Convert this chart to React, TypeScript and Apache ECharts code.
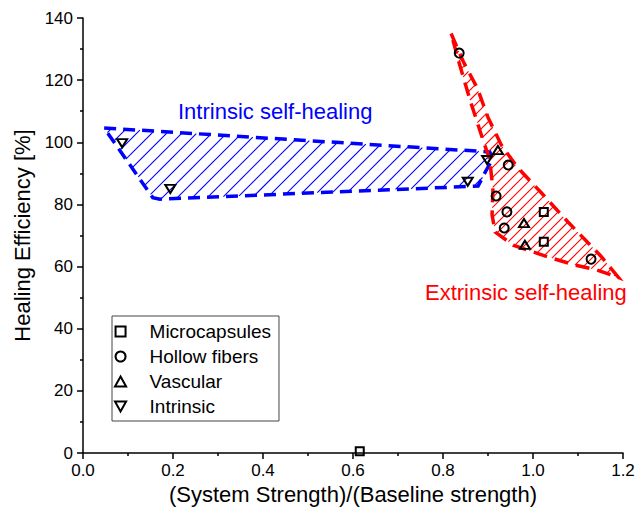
import React, { useEffect, useRef } from 'react';
import * as echarts from 'echarts';

const FONT = '"Liberation Sans", Arial, Helvetica, sans-serif';

// x: (System Strength)/(Baseline strength), y: Healing Efficiency [%]
const microcapsules: number[][] = [[1.024, 77.6], [1.024, 68], [0.615, 0.6]];
const hollowFibers: number[][] = [
  [0.836, 128.7], [0.945, 92.7], [0.918, 82.7], [0.942, 77.6], [0.936, 72.4], [1.129, 62.4],
];
const vascular: number[][] = [[0.922, 97.5], [0.98, 74], [0.982, 67]];
const intrinsic: number[][] = [[0.087, 99.7], [0.194, 85], [0.855, 87.3], [0.898, 94.3]];

const intrinsicRegion: number[][] = [
  [0.047, 104.6], [0.904, 96.9], [0.91, 94.5], [0.896, 91], [0.878, 85.9], [0.171, 81.7], [0.155, 82.2],
];
const extrinsicRegion: number[][] = [
  [0.818, 135], [0.845, 126], [0.876, 117.5], [0.9, 108], [0.93, 99], [0.965, 92], [1.02, 83.5],
  [1.08, 74], [1.15, 63.5], [1.19, 56.5], [1.142, 58.9], [1.093, 60.5], [1.033, 63.1], [0.956, 66.9],
  [0.916, 71.1], [0.909, 76.6], [0.911, 84.6], [0.904, 94.3], [0.889, 100.7], [0.86, 113.6], [0.835, 126],
];

const legendNames = ['Microcapsules', 'Hollow fibers', 'Vascular', 'Intrinsic'];

function hatchLines(pts: number[][], step: number) {
  const sums = pts.map((p) => p[0] + p[1]);
  const lo = Math.min(...sums);
  const hi = Math.max(...sums);
  const out: number[][] = [];
  for (let c = Math.ceil(lo / step) * step; c <= hi; c += step) {
    const hits: number[][] = [];
    for (let i = 0; i < pts.length; i++) {
      const a = pts[i];
      const b = pts[(i + 1) % pts.length];
      const fa = a[0] + a[1] - c;
      const fb = b[0] + b[1] - c;
      if ((fa < 0 && fb >= 0) || (fa >= 0 && fb < 0)) {
        const t = fa / (fa - fb);
        hits.push([a[0] + t * (b[0] - a[0]), a[1] + t * (b[1] - a[1])]);
      }
    }
    hits.sort((p, q) => p[0] - q[0]);
    for (let k = 0; k + 1 < hits.length; k += 2) {
      out.push([hits[k][0], hits[k][1], hits[k + 1][0], hits[k + 1][1]]);
    }
  }
  return out;
}

function regionSeries(region: number[][], color: string, hatchColor: string, step: number, dash: number[]) {
  return {
    type: 'custom',
    silent: true,
    z: 1,
    data: region,
    itemStyle: { color: hatchColor },
    renderItem: (params: any, api: any) => {
      if (params.dataIndex !== 0) return null;
      const px = region.map((p) => api.coord(p));
      const lines = hatchLines(px, step);
      return {
        type: 'group',
        children: [
          ...lines.map((l) => ({
            type: 'polyline',
            shape: { points: [[l[0], l[1]], [l[2], l[3]]] },
            style: { fill: 'none', stroke: hatchColor, lineWidth: 1.1 },
          })),
          {
            type: 'polygon',
            shape: { points: px },
            style: { fill: 'none', stroke: color, lineWidth: 3.5, lineDash: dash },
          },
        ],
      };
    },
  };
}

const markerStyle = { color: 'rgba(255,255,255,0)', borderColor: '#000', borderWidth: 2, opacity: 1 };

export default function App() {
  const ref = useRef<HTMLDivElement>(null);
  useEffect(() => {
    document.body.style.margin = '0';
    const chart = echarts.init(ref.current!, null, { renderer: 'svg' });
    chart.setOption({
      animation: false,
      backgroundColor: '#fff',
      grid: { left: 83, right: 13, top: 18, bottom: 72, containLabel: false, outerBoundsMode: 'none' },
      xAxis: {
        type: 'value',
        min: 0,
        max: 1.2,
        interval: 0.2,
        name: '(System Strength)/(Baseline strength)',
        nameLocation: 'middle',
        nameGap: 30,
        nameTextStyle: { fontSize: 22, fontFamily: FONT, color: '#000' },
        axisLine: { lineStyle: { color: '#000', width: 1.5 } },
        axisTick: { length: 6, lineStyle: { color: '#000', width: 1.5 } },
        minorTick: { show: true, splitNumber: 2, length: 3, lineStyle: { color: '#000', width: 1.5 } },
        splitLine: { show: false },
        axisLabel: { fontSize: 17, fontFamily: FONT, color: '#000', margin: 9, formatter: (v: number) => v.toFixed(1) },
      },
      yAxis: {
        type: 'value',
        min: 0,
        max: 140,
        interval: 20,
        name: 'Healing Efficiency [%]',
        nameLocation: 'middle',
        nameGap: 45,
        nameTextStyle: { fontSize: 22, fontFamily: FONT, color: '#000' },
        axisLine: { show: true, lineStyle: { color: '#000', width: 1.5 } },
        axisTick: { show: true, length: 6, lineStyle: { color: '#000', width: 1.5 } },
        minorTick: { show: true, splitNumber: 2, length: 3, lineStyle: { color: '#000', width: 1.5 } },
        splitLine: { show: false },
        axisLabel: { fontSize: 17, fontFamily: FONT, color: '#000', margin: 10 },
      },
      legend: {
        data: legendNames,
        orient: 'vertical',
        left: 112,
        top: 316,
        itemWidth: 48,
        itemHeight: 10,
        itemGap: 6,
        padding: [6, 8, 5, 2],
        borderColor: '#444',
        borderWidth: 1,
        symbolKeepAspect: true,
        textStyle: { fontSize: 19, fontFamily: FONT, color: '#000', lineHeight: 19 },
      },
      graphic: [
        {
          type: 'text',
          left: 178,
          top: 100,
          style: { text: 'Intrinsic self-healing', fill: '#0000ff', fontSize: 22, fontFamily: FONT },
        },
        {
          type: 'text',
          left: 425,
          top: 281,
          style: { text: 'Extrinsic self-healing', fill: '#ff0000', fontSize: 22, fontFamily: FONT },
        },
      ],
      series: [
        regionSeries(intrinsicRegion, '#0000ff', '#0000ff', 15, [12, 7]),
        regionSeries(extrinsicRegion, '#ff0000', '#ff0000', 10, [14, 8]),
        { type: 'scatter', name: 'Microcapsules', data: microcapsules, symbol: 'path://M0,0L10,0L10,10L0,10Z', symbolKeepAspect: true, symbolSize: 8, itemStyle: markerStyle, z: 5 },
        { type: 'scatter', name: 'Hollow fibers', data: hollowFibers, symbol: 'circle', symbolSize: 9, itemStyle: markerStyle, z: 5 },
        { type: 'scatter', name: 'Vascular', data: vascular, symbol: 'path://M5,0L10,9L0,9Z', symbolKeepAspect: true, symbolSize: [10, 9], itemStyle: markerStyle, z: 5 },
        { type: 'scatter', name: 'Intrinsic', data: intrinsic, symbol: 'path://M0,0L10,0L5,9Z', symbolKeepAspect: true, symbolSize: [10, 9], itemStyle: markerStyle, z: 5 },
      ],
    });
    return () => chart.dispose();
  }, []);
  return <div ref={ref} style={{ width: 636, height: 525 }} />;
}
